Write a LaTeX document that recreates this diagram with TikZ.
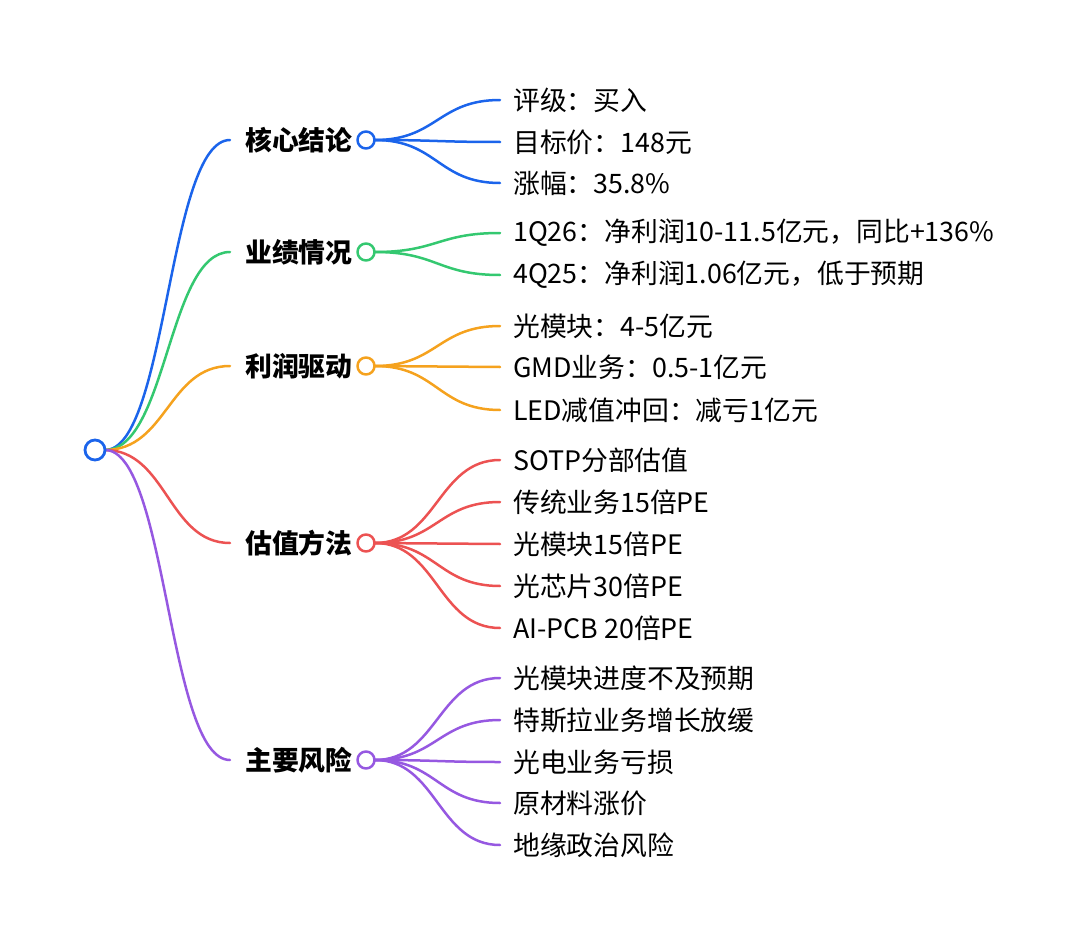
\documentclass[tikz,border=0pt]{standalone}
\usepackage{fontspec}
\setmainfont{Noto Sans CJK SC}
\usetikzlibrary{positioning}
\definecolor{mblue}{RGB}{27,100,235}
\definecolor{mgreen}{RGB}{52,200,112}
\definecolor{morange}{RGB}{245,162,30}
\definecolor{mred}{RGB}{236,82,82}
\definecolor{mpurple}{RGB}{150,88,225}
\tikzset{
  cat/.style={anchor=west,inner xsep=15pt,inner ysep=0pt,font=\fontsize{26.8}{30}\selectfont\bfseries},
  leaf/.style={anchor=west,inner xsep=13pt,inner ysep=0pt,font=\fontsize{26.8}{30}\selectfont},
  dot/.style={circle,draw=#1,fill=white,line width=2.5pt,minimum size=17pt,inner sep=0pt},
  link/.style={line width=2.5pt,#1}
}
\newcommand{\bend}[3]{\draw[link=#1] (#2) .. controls +(62,0) and +(-62,0) .. (#3);}
\begin{document}
\begin{tikzpicture}[line cap=round,line join=round,x=1pt,y=-1pt]
			\useasboundingbox (0,0) rectangle (1080,942);
			% level one
			\node[cat] (hx) at (230,140) {核心结论};
			\node[cat] (yj) at (230,252) {业绩情况};
			\node[cat] (lr) at (230,366) {利润驱动};
			\node[cat] (gz) at (230,543) {估值方法};
			\node[cat] (fx) at (230,760) {主要风险};
			\coordinate (root) at (105,450);
			\bend{mblue}{root}{hx.west}
			\bend{mgreen}{root}{yj.west}
			\bend{morange}{root}{lr.west}
			\bend{mred}{root}{gz.west}
			\bend{mpurple}{root}{fx.west}
			\node[dot=mblue,minimum size=20pt,line width=2.8pt] (rc) at (95,450) {};
			% leaves
			\node[leaf] (hx1) at (500,100) {评级：买入};
			\node[leaf] (hx2) at (500,142) {目标价：148元};
			\node[leaf] (hx3) at (500,183) {涨幅：35.8\%};
			\node[leaf] (yj1) at (500,233) {1Q26：净利润10-11.5亿元，同比+136\%};
			\node[leaf] (yj2) at (500,275) {4Q25：净利润1.06亿元，低于预期};
			\node[leaf] (lr1) at (500,326) {光模块：4-5亿元};
			\node[leaf] (lr2) at (500,367) {GMD业务：0.5-1亿元};
			\node[leaf] (lr3) at (500,410) {LED减值冲回：减亏1亿元};
			\node[leaf] (gz1) at (500,460) {SOTP分部估值};
			\node[leaf] (gz2) at (500,502) {传统业务15倍PE};
			\node[leaf] (gz3) at (500,544) {光模块15倍PE};
			\node[leaf] (gz4) at (500,586) {光芯片30倍PE};
			\node[leaf] (gz5) at (500,628) {AI-PCB 20倍PE};
			\node[leaf] (fx1) at (500,678) {光模块进度不及预期};
			\node[leaf] (fx2) at (500,720) {特斯拉业务增长放缓};
			\node[leaf] (fx3) at (500,762) {光电业务亏损};
			\node[leaf] (fx4) at (500,803) {原材料涨价};
			\node[leaf] (fx5) at (500,845) {地缘政治风险};
			\coordinate (hxo) at (375,140);
			\coordinate (yjo) at (375,252);
			\coordinate (lro) at (375,366);
			\coordinate (gzo) at (375,543);
			\coordinate (fxo) at (375,760);
			\bend{mblue}{hxo}{hx1.west}
			\bend{mblue}{hxo}{hx2.west}
			\bend{mblue}{hxo}{hx3.west}
			\bend{mgreen}{yjo}{yj1.west}
			\bend{mgreen}{yjo}{yj2.west}
			\bend{morange}{lro}{lr1.west}
			\bend{morange}{lro}{lr2.west}
			\bend{morange}{lro}{lr3.west}
			\bend{mred}{gzo}{gz1.west}
			\bend{mred}{gzo}{gz2.west}
			\bend{mred}{gzo}{gz3.west}
			\bend{mred}{gzo}{gz4.west}
			\bend{mred}{gzo}{gz5.west}
			\bend{mpurple}{fxo}{fx1.west}
			\bend{mpurple}{fxo}{fx2.west}
			\bend{mpurple}{fxo}{fx3.west}
			\bend{mpurple}{fxo}{fx4.west}
			\bend{mpurple}{fxo}{fx5.west}
			\node[dot=mblue] (hxc) at (366,140) {};
			\node[dot=mgreen] (yjc) at (366,252) {};
			\node[dot=morange] (lrc) at (366,366) {};
			\node[dot=mred] (gzc) at (366,543) {};
			\node[dot=mpurple] (fxc) at (366,760) {};
\end{tikzpicture}
\end{document}
